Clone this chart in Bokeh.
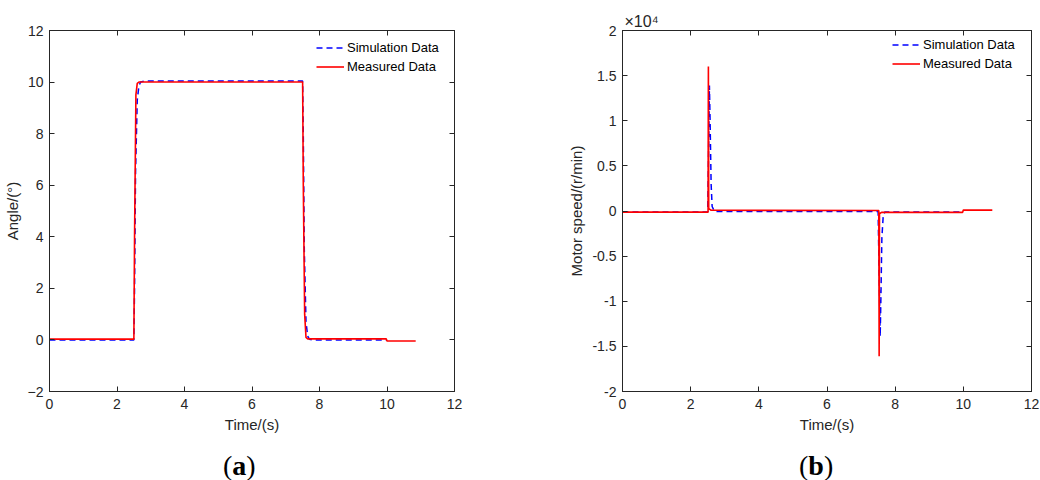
from bokeh.plotting import figure
from bokeh.layouts import row, column
from bokeh.models import LinearAxis, Range1d, Legend, LegendItem, Div
from bokeh.embed import file_html
from bokeh.resources import INLINE

# ---------------- data ----------------
# (a) angle response
t_sim_a = [0.0, 2.50, 2.52, 2.55, 2.60, 2.65, 2.70, 2.80, 7.50, 7.52, 7.55, 7.60, 7.65, 7.70, 7.80, 10.0]
ang_sim = [0.0, 0.0, 2.0, 6.5, 9.3, 9.85, 10.0, 10.04, 10.04, 8.0, 3.5, 0.7, 0.15, 0.03, 0.0, 0.0]
t_mea_a = [0.0, 2.50, 2.52, 2.56, 2.60, 2.65, 7.50, 7.52, 7.56, 7.60, 7.65, 9.98, 10.0, 10.85]
ang_mea = [0.03, 0.03, 4.0, 9.5, 9.95, 10.0, 10.0, 6.0, 1.0, 0.1, 0.04, 0.04, -0.04, -0.04]

# (b) motor speed (r/min)
t_sim_b = [0.0, 2.50, 2.52, 2.55, 2.57, 2.60, 2.63, 2.70, 7.50, 7.52, 7.56, 7.58, 7.61, 7.65, 7.70, 10.0]
spd_sim = [-100, -100, 5000, 13900, 10000, 3000, 500, -50, -50, -5000, -13900, -10000, -3000, -500, -100, -100]
t_mea_b = [0.0, 2.51, 2.52, 2.53, 2.55, 2.60, 7.52, 7.53, 7.54, 7.56, 7.60, 9.98, 10.0, 10.85]
spd_mea = [-130, -130, 16000, 300, 200, 80, 60, -16100, -300, -250, -150, -150, 100, 100]

x_ticks = [0, 2, 4, 6, 8, 10, 12]
ya_ticks = [-2, 0, 2, 4, 6, 8, 10, 12]
yb_ticks = [-20000, -15000, -10000, -5000, 0, 5000, 10000, 15000, 20000]
yb_labels = ["-2", "-1.5", "-1", "-0.5", "0", "0.5", "1", "1.5", "2"]

FONT = "Liberation Sans"
TXT = "#262626"
H = 452
W = 520


def style_axis(ax, ticks, show_labels=True, standoff=5):
    ax.ticker = ticks
    ax.major_tick_in = 5
    ax.major_tick_out = 0
    ax.minor_tick_line_color = None
    ax.axis_line_color = TXT
    ax.major_tick_line_color = TXT
    ax.major_label_text_color = TXT
    ax.major_label_text_font = FONT
    ax.axis_label_text_font = FONT
    ax.axis_label_text_color = TXT
    ax.axis_label_text_font_style = "normal"
    ax.axis_label_text_font_size = "15px"
    if show_labels:
        ax.major_label_text_font_size = "14px"
        ax.major_label_standoff = standoff
        ax.axis_label_standoff = 4
    else:
        ax.major_label_overrides = {t: "" for t in ticks}
        ax.major_label_text_font_size = "1px"
        ax.major_label_standoff = 0


def make_fig(mbl, mbr, mbt, mbb, yr, yticks, ylabel, xs, legend_loc, title):
    p = figure(width=W, height=H, output_backend="svg", toolbar_location=None,
               x_range=Range1d(0, 12), y_range=Range1d(*yr), title=title,
               min_border_left=mbl, min_border_right=mbr,
               min_border_top=mbt, min_border_bottom=mbb)
    p.xgrid.visible = False
    p.ygrid.visible = False
    p.outline_line_color = TXT
    p.background_fill_color = "white"
    p.border_fill_color = "white"
    style_axis(p.xaxis[0], x_ticks, standoff=7)
    style_axis(p.yaxis[0], yticks, standoff=6)
    p.xaxis[0].axis_label = "Time/(s)"
    p.yaxis[0].axis_label = ylabel
    top = LinearAxis()
    style_axis(top, x_ticks, show_labels=False)
    right = LinearAxis()
    style_axis(right, yticks, show_labels=False)
    p.add_layout(top, "above")
    p.add_layout(right, "right")
    ts, ys, tm, ym = xs
    r1 = p.line(ts, ys, line_color="#0000FF", line_width=1.5, line_dash="6 4")
    r2 = p.line(tm, ym, line_color="#FF0000", line_width=1.6)
    leg = Legend(items=[LegendItem(label="Simulation Data", renderers=[r1]),
                        LegendItem(label="Measured Data", renderers=[r2])],
                 location=legend_loc, glyph_width=28, glyph_height=15,
                 label_standoff=3, padding=0, spacing=4, margin=0,
                 border_line_alpha=0, background_fill_alpha=0,
                 label_text_font=FONT, label_text_font_size="13px",
                 label_text_color="black")
    p.add_layout(leg)
    return p


def caption(letter, pad):
    return Div(text="(<b>%s</b>)" % letter, width=W, height=28, margin=0,
               styles={"font-family": "'Liberation Serif', serif", "font-size": "28px",
                       "line-height": "28px", "color": "black",
                       "padding-left": "%dpx" % pad, "box-sizing": "border-box"})


pa = make_fig(48, 66, 30, 61, (-2, 12), ya_ticks, "Angle/(°)",
              (t_sim_a, ang_sim, t_mea_a, ang_mea), (267, 317), None)

pb = make_fig(102, 9, 29, 58, (-20000, 20000), yb_ticks, "Motor speed/(r/min)",
              (t_sim_b, spd_sim, t_mea_b, spd_mea), (270, 320), "×10⁴")
pb.yaxis[0].major_label_overrides = dict(zip(yb_ticks, yb_labels))
pb.title.align = "left"
pb.title.offset = 2
pb.title.standoff = 1
pb.title.text_font = FONT
pb.title.text_font_size = "16px"
pb.title.text_font_style = "normal"
pb.title.text_color = TXT

layout = column(row(pa, pb), row(caption("a", 223), caption("b", 279)))
with open("out.html", "w") as f:
    f.write(file_html(layout, INLINE))
